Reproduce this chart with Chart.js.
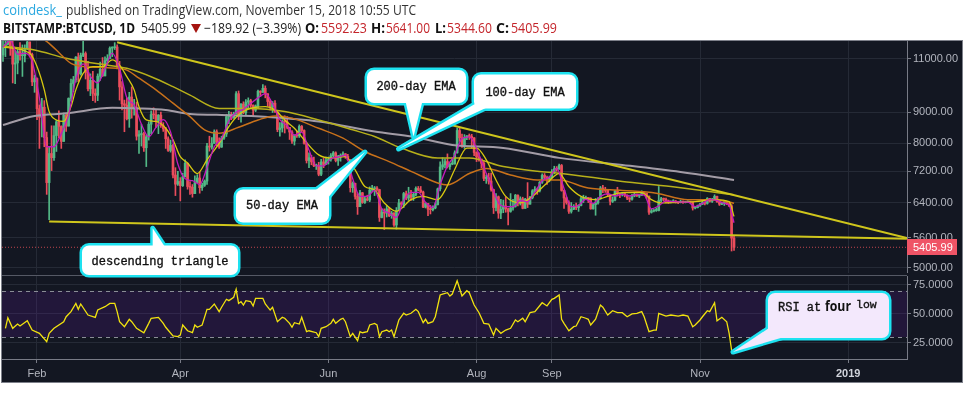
<!DOCTYPE html>
<html>
<head>
<meta charset="utf-8">
<script src="https://cdn.jsdelivr.net/npm/chart.js@4.4.0/dist/chart.umd.min.js"></script>
<style>
  html, body { margin: 0; padding: 0; background: #fff; }
  #wrap { position: relative; width: 968px; height: 393px; overflow: hidden; }
  #panel { position: absolute; left: 1px; top: 40px; width: 962px; height: 343px; box-sizing: border-box;
           background: #131722; border: 1px solid #7d808a; }
  #sep { position: absolute; left: 2px; top: 275px; width: 905px; height: 1px; background: #555965; }
  #main { position: absolute; left: 2px; top: 41px; }
  #rsi { position: absolute; left: 2px; top: 276px; }
  #overlay { position: absolute; left: 0; top: 0; pointer-events: none; }
</style>
</head>
<body>
<div id="wrap">
  <div id="panel"></div>
  <canvas id="main" width="960" height="232"></canvas>
  <div id="sep"></div>
  <canvas id="rsi" width="960" height="106"></canvas>
  <svg id="overlay" width="968" height="393">
    <!-- header -->
    <g font-family="Open Sans" font-size="14">
      <text x="3" y="15" fill="#2aa8e0" textLength="59" lengthAdjust="spacingAndGlyphs">coindesk_</text>
      <text x="66" y="15" fill="#333" textLength="350" lengthAdjust="spacingAndGlyphs">published on TradingView.com, November 15, 2018 10:55 UTC</text>
      <text x="3" y="33" fill="#111" font-weight="bold" textLength="132" lengthAdjust="spacingAndGlyphs">BITSTAMP:BTCUSD, 1D</text>
      <text x="141" y="33" fill="#222" textLength="45" lengthAdjust="spacingAndGlyphs">5405.99</text>
      <polygon points="191,24 201,24 196,33" fill="#a5140f"/>
      <text x="204" y="33" fill="#222" textLength="97" lengthAdjust="spacingAndGlyphs">−189.92 (−3.39%)</text>
      <text x="305" y="33" fill="#111" font-weight="bold" textLength="14" lengthAdjust="spacingAndGlyphs">O:</text>
      <text x="321" y="33" fill="#c4252b" textLength="46" lengthAdjust="spacingAndGlyphs">5592.23</text>
      <text x="371" y="33" fill="#111" font-weight="bold" textLength="14" lengthAdjust="spacingAndGlyphs">H:</text>
      <text x="386" y="33" fill="#c4252b" textLength="44" lengthAdjust="spacingAndGlyphs">5641.00</text>
      <text x="435" y="33" fill="#111" font-weight="bold" textLength="11" lengthAdjust="spacingAndGlyphs">L:</text>
      <text x="447" y="33" fill="#c4252b" textLength="45" lengthAdjust="spacingAndGlyphs">5344.60</text>
      <text x="496" y="33" fill="#111" font-weight="bold" textLength="13" lengthAdjust="spacingAndGlyphs">C:</text>
      <text x="511" y="33" fill="#c4252b" textLength="46" lengthAdjust="spacingAndGlyphs">5405.99</text>
    </g>
    <!-- callout outlines -->
    <g stroke="#1de2f0" stroke-width="5" fill="none" stroke-linejoin="round">
      <rect x="367" y="70" width="99" height="33" rx="7"/>
      <polygon points="405,99 423,99 413.5,136.5"/>
      <rect x="474" y="74.5" width="102" height="34" rx="7"/>
      <polygon points="480,101 490,106 398.5,149"/>
      <rect x="236" y="189.5" width="93" height="33" rx="7"/>
      <polygon points="312,193 327,199 365,152"/>
      <rect x="82" y="245.5" width="156" height="29.5" rx="7"/>
      <polygon points="152.7,250 152.7,228.3 167,250"/>
      <rect x="768" y="293" width="121" height="45" rx="7"/>
      <polygon points="772,326 784,337 733,352"/>
    </g>
    <g stroke="none">
      <g fill="#fff">
        <rect x="367" y="70" width="99" height="33" rx="7"/>
        <polygon points="405,99 423,99 413.5,136.5"/>
        <rect x="474" y="74.5" width="102" height="34" rx="7"/>
        <polygon points="480,101 490,106 398.5,149"/>
        <rect x="236" y="189.5" width="93" height="33" rx="7"/>
        <polygon points="312,193 327,199 365,152"/>
        <rect x="82" y="245.5" width="156" height="29.5" rx="7"/>
        <polygon points="152.7,250 152.7,228.3 167,250"/>
      </g>
      <g fill="#f3e8fc">
        <rect x="768" y="293" width="121" height="45" rx="7"/>
        <polygon points="772,326 784,337 733,352"/>
      </g>
    </g>
    <g font-family="Liberation Mono" font-size="12" fill="#111" stroke="#111" stroke-width="0.35">
      <text x="416" y="90" text-anchor="middle">200-day EMA</text>
      <text x="525" y="96" text-anchor="middle">100-day EMA</text>
      <text x="282" y="208.5" text-anchor="middle">50-day EMA</text>
      <text x="160" y="264.5" text-anchor="middle">descending triangle</text>
      <text x="778" y="311">RSI at</text>
      <text x="825" y="311" font-family="Open Sans" font-weight="bold" font-size="14" stroke="none" textLength="26" lengthAdjust="spacingAndGlyphs">four</text>
      <text x="856" y="308" font-size="11.5">low</text>
    </g>
  </svg>
</div>
<script>
// ---- data (day = days since 1 Jan 2018) ----
const firstDay = 17;          // 18 Jan 2018
const firstOpen = 11170;
const lastPrice = 5405.99;

const closes = [
  11480,11620,12790,11550,10790,10840,11310,11140,11140,11440,11730,11190,10090,10220, // Jan
  9120,8830,9170,8180,6900,7700,7580,8240,8680,8530,8060,8900,8540,9480,10030,10170,11080,10400,11150,11230,10460,9830,10150,9660,9590,10310,10580,10320, // Feb
  10930,11020,11460,11480,11510,10720,9900,9290,9240,8780,9530,9140,9150,8220,8270,8300,7870,8200,8600,8920,8910,8720,8900,8550,8450,8140,7790,7940,7100,6860,6930, // Mar
  6820,7050,7420,6800,6780,6620,6900,7020,6770,6830,6940,7920,7890,8000,8360,8050,7890,8160,8290,8850,8920,8800,8940,9650,8870,9280,8980,9350,9400,9240, // Apr
  9070,9210,9740,9700,9850,9650,9370,9180,9310,9010,8430,8480,8700,8680,8500,8350,8070,8240,8230,8530,8400,8000,7500,7580,7460,7350,7350,7120,7460,7390,7500, // May
  7530,7640,7720,7500,7620,7650,7690,7620,7520,6770,6880,6550,6300,6640,6400,6490,6460,6710,6740,6760,6720,6050,6170,6150,6250,6090,6150,5880,6210,6390, // Jun
  6360,6620,6510,6590,6530,6600,6750,6710,6660,6290,6380,6240,6230,6270,6350,6740,7320,7380,7470,7330,7400,7400,7720,8400,8170,7940,8180,8230,8210,8170,7730, // Jul
  7600,7540,7420,7010,7030,6940,6720,6280,6540,6150,6240,6320,6250,6190,6270,6310,6580,6390,6490,6260,6480,6360,6520,6690,6730,6690,6910,7090,7040,6980,7030, // Aug
  7190,7270,7260,7360,6700,6510,6400,6190,6240,6300,6280,6330,6490,6490,6520,6500,6250,6350,6390,6490,6760,6710,6700,6590,6430,6460,6680,6620,6590,6620, // Sep
  6580,6510,6480,6560,6600,6560,6580,6660,6630,6560,6170,6200,6210,6210,6450,6490,6480,6440,6400,6420,6430,6410,6400,6430,6400,6410,6420,6410,6270,6280,6320, // Oct
  6360,6400,6380,6500,6430,6480,6550,6420,6360,6390,6400,6370,6320,5596,5405.99 // Nov
];
const highs = [
  12000,11900,13000,12790,11900,11350,11400,11700,11600,11600,12030,11730,11250,10350,
  10250,9250,9480,9400,8350,7880,8550,8550,8730,9050,8550,8970,8960,9500,10200,10300,11100,11250,11250,11780,11300,10900,10400,10500,9830,10400,10870,11060,
  11090,11180,11520,11520,11700,11600,10900,10100,9420,9500,9700,9900,9450,9350,8400,8600,8350,8250,8680,9050,9150,9100,8920,9000,8650,8500,8200,8100,7970,7300,7200,
  7030,7150,7520,7430,6930,6850,7080,7110,7180,6890,6970,8000,8220,8180,8420,8420,8170,8220,8300,8930,9030,9000,9000,9730,9750,9300,9360,9440,9500,9450,
  9250,9250,9780,9760,9990,9940,9650,9450,9370,9400,9010,8650,8750,8880,8850,8500,8400,8270,8380,8580,8560,8420,8020,7720,7650,7600,7400,7450,7530,7560,7600,
  7600,7700,7760,7750,7650,7690,7750,7700,7680,7530,6920,6890,6620,6700,6650,6550,6580,6790,6830,6800,6800,6730,6250,6250,6330,6280,6190,6160,6280,6480,
  6420,6650,6680,6780,6700,6630,6790,6800,6800,6680,6400,6380,6330,6320,6390,6760,7460,7580,7550,7690,7430,7570,7780,8480,8490,8290,8270,8240,8290,8280,8180,
  7750,7720,7540,7500,7100,7150,7150,6730,6620,6560,6480,6460,6540,6270,6620,6480,6600,6590,6540,6530,6500,6900,6550,6720,6800,6760,6930,7130,7140,7070,7070,
  7250,7340,7330,7400,7390,6710,6530,6440,6400,6350,6390,6350,6530,6580,6560,6520,6520,6380,6500,6520,6800,6830,6780,6710,6600,6540,6700,6780,6630,6650,
  6650,6590,6520,6600,6640,6610,6600,6690,6660,6630,6560,6240,6230,6270,6800,6530,6510,6510,6460,6440,6470,6450,6420,6460,6440,6430,6440,6430,6420,6300,6340,
  6380,6430,6410,6520,6500,6500,6590,6560,6430,6400,6430,6430,6380,6350,5641
];
const lows = [
  10900,11100,11600,11150,10050,10020,10400,10950,10300,10880,11400,11080,9950,9700,
  8750,7850,8200,7900,6600,6000,7220,7500,7760,8170,7850,8060,8370,8540,9380,9720,10080,10100,10350,11100,10200,9750,9580,9400,9340,9400,10150,10300,
  10320,10780,11000,11100,11400,10600,9420,9080,8360,8740,8500,8800,8900,8100,7700,7920,7760,7330,8100,8300,8780,8500,8300,8500,8370,7850,7760,7740,7020,6570,6830,
  6440,6800,7050,6730,6600,6530,6620,6900,6630,6700,6800,6850,7770,7830,8000,7930,7850,7880,8120,8210,8620,8750,8800,8930,8750,8670,8950,8900,9120,9160,
  8850,9020,9150,9550,9700,9500,9200,9080,8990,8990,8360,8220,8350,8320,8450,8120,8000,7950,8180,8180,8350,7980,7430,7300,7380,7330,7250,7080,7080,7300,7380,
  7400,7480,7600,7460,7360,7480,7640,7560,7500,6660,6650,6480,6120,6300,6380,6380,6440,6420,6670,6570,6680,5960,6040,5780,6060,6070,6030,5850,5790,6200,
  6290,6280,6470,6450,6450,6450,6560,6690,6640,6280,6270,6090,6130,6200,6250,6340,6690,7250,7290,7290,7250,7380,7400,7710,8060,7880,7850,8110,8120,7860,7640,
  7470,7480,7290,6950,6880,6860,6680,6140,6200,6030,6020,6160,6170,5880,6170,6220,6290,6320,6340,6250,6260,6280,6360,6490,6660,6600,6660,6880,6990,6850,6920,
  7020,7130,7200,7250,6680,6260,6360,6140,6150,6230,6230,6190,6320,6400,6480,6400,6240,6240,6100,6360,6480,6640,6650,6560,6340,6400,6440,6560,6520,6560,
  6540,6470,6420,6460,6540,6550,6520,6570,6600,6500,6120,6150,6180,6190,6200,6420,6440,6390,6380,6390,6410,6390,6370,6390,6380,6390,6400,6390,6220,6250,6270,
  6310,6350,6340,6360,6410,6400,6470,6400,6330,6350,6330,6350,6300,5330,5344.6
];

const ema200Days = [17,30,43,62,73,84,94,105,126,147,170,186,202,223,246,272,296,318];
const ema200 = [8575,8870,8960,9150,9130,9075,8940,8910,8840,8690,8365,8200,7955,7865,7575,7375,7180,6970];

const ema100Days = [17,30,43,57,68,78,87,94,106,119,133,147,161,170,181,196,209,223,237,246,272,292,318];
const ema100 = [11550,11380,11030,10790,10620,10290,9910,9600,9130,9130,9020,8740,8420,8210,7860,7570,7570,7330,7200,7150,6930,6800,6590];

const ema50Days = [30,36,41,45,50,57,64,68,73,80,87,94,100,106,114,122,129,136,147,157,166,176,185,196,200,209,216,226,237,246,258,272,286,299,310,318];
const ema50 = [12100,11670,11170,10820,10690,10660,10620,10550,10230,9790,9310,8850,8420,8310,8500,8740,8875,8800,8470,8160,7760,7470,7200,6890,6840,7140,7280,7100,6970,6970,6760,6700,6630,6470,6470,6385];

const fastDays = [17,28,31,34,36,39,42,45,47,50,54,58,62,65,68,71,73,76,80,84,87,90,93,97,101,106,110,114,119,125,
  129,133,137,141,147,152,158,162,166,170,174,179,185,190,196,199,203,208,212,216,220,224,230,235,241,246,250,255,261,266,
  272,280,284,288,294,302,310,316,318];
const emaFast = [11500,11240,10690,9790,9020,8740,8690,9190,9790,10420,10690,10690,10960,10750,10290,9790,9190,8740,8690,8470,
  8110,7610,7430,7140,7520,8000,8520,8910,9130,9190,9080,8740,8470,8110,7660,7570,7610,7240,6800,6710,
  6390,6190,6470,6550,6470,6700,7250,7860,7860,7520,6970,6550,6390,6550,6890,7140,6800,6550,6470,6550,
  6645,6645,6470,6390,6400,6420,6470,6420,6070];

const shortDays = [17,20,23,26,29,32,35,38,41,44,47,50,53,56,59,62,65,68,71,74,77,80,83,86,89,92,95,98,101,104,
  107,110,113,116,119,122,125,128,131,134,137,140,143,146,149,152,155,158,161,164,167,170,173,176,179,182,185,188,191,194,
  197,200,203,206,209,212,215,218,221,224,227,230,233,236,239,242,245,248,251,254,257,260,263,266,269,272,275,278,281,284,
  287,290,293,296,299,302,305,308,311,314,316,317,318];
const emaShort = [11500,11800,11200,11250,10900,9500,7900,7900,8300,8900,10200,10800,10300,10050,10600,11250,10600,9500,9250,8600,
  8200,8500,8750,8350,7400,7000,6950,6850,7300,7900,8150,8700,9000,9100,9300,9500,9650,9300,8750,8550,
  8250,8350,7800,7350,7350,7550,7600,7650,7000,6550,6550,6700,6250,6150,6050,6450,6650,6650,6400,6280,
  6850,7350,7650,8150,8200,7850,7300,6850,6400,6300,6300,6450,6420,6650,6950,7050,7280,6750,6300,6330,
  6480,6380,6550,6620,6560,6600,6560,6600,6580,6250,6320,6440,6420,6410,6410,6300,6380,6470,6450,6380,
  6340,6150,5930];

const rsiDays = [18,19,21,23,24,27,29,32,35,36,38,42,43,45,47,48,49,52,55,56,59,61,63,64,65,67,69,70,72,75,
  77,78,81,83,84,87,89,90,91,93,95,96,97,99,101,102,104,106,107,109,110,112,113,114,115,116,117,119,120,121,
  124,125,127,128,130,132,133,135,136,137,139,140,142,143,146,147,148,150,152,153,154,156,157,158,160,161,163,164,165,167,
  168,170,171,172,173,175,176,177,178,180,182,183,185,187,188,190,191,192,194,195,197,198,200,201,202,204,206,208,209,211,
  213,215,217,219,220,222,224,226,228,229,231,232,234,236,239,241,243,244,246,247,248,250,252,253,255,257,258,259,261,263,
  264,266,268,270,272,274,276,278,280,281,283,285,286,287,290,292,295,297,299,301,302,304,305,307,308,310,311,313,315,316,
  317,318];
const rsiValues = [37.5,46.7,37.5,41.2,39.5,44,36,33.2,26,33.2,37.5,43.2,47.5,51.9,59,53.9,58.5,49,47,53.3,
  56.2,59,59,51.9,43.2,38.9,45.3,43.2,37.5,33.7,41.8,46.2,47,41.8,38.4,30.9,30.3,31.7,40.4,35.4,
  33.7,40.4,38.4,40.4,53.9,53.9,58.5,51.9,55.7,62.6,61.4,64.3,71.2,59,60.5,57.6,61.4,60.5,56.8,63.4,
  63.4,58.5,53.3,55.7,43.2,47,46.2,41.8,38.4,42.4,41.2,47,34.6,35.4,33.7,30.3,37.5,38.9,41.8,45.3,
  41.8,45.3,46.2,43.2,30.3,33.2,26.8,34.6,33.7,34.6,40.4,41.8,40.4,30.3,34.6,36,34.6,36,30.3,44.7,
  50.5,49,50.5,53.9,51.9,42.4,45.3,41.8,43.2,47.5,66.3,67.1,68.3,65.4,67.1,78.6,65.4,70,68.3,57.6,
  51,41.8,41.2,31.7,37.5,33.2,36,37.5,44.7,43.2,46.2,43.2,51,51.9,59.6,56.8,62.6,63.4,66.3,45.3,
  41.8,35.4,38.9,39.5,47.5,46.2,45.3,40.4,45.3,57.6,55.7,49,52.7,51,51,47.5,49.9,50.5,51.9,47.5,
  34.6,36,36,50.5,48.1,49,48.1,49,48.1,38.9,40.4,44.7,47.5,52.7,51.9,59.6,44,47,43.2,33.2,
  18.8,15.9];

// upper / lower triangle lines: [startDay, startPrice, endDay, endPrice]
const upperLine = [64, 11720, 389.2, 5600];
const lowerLine = [36, 5960, 389.2, 5585];

const priceTicks = [5000, 5600, 6400, 7200, 8000, 9000, 11000];
const rsiTicks = [25, 50, 75];
const monthDays = [31, 90, 151, 212, 243, 304, 365];
const monthLabels = ['Feb', 'Apr', 'Jun', 'Aug', 'Sep', 'Nov', '2019'];

// ---- layout of the view ----
const X_MIN = 16.59, X_MAX = 389.23;
const UP = '#53b987', DOWN = '#eb4d5c';
const GRID = '#252a36', AXIS = '#787b86', LABEL = '#b2b5be';
const FONT = 'Liberation Sans';

const opens = closes.map((c, i) => i === 0 ? firstOpen : closes[i - 1]);
const colors = closes.map((c, i) => c >= opens[i] ? UP : DOWN);
const bodies = closes.map((c, i) => ({ x: firstDay + i, y: [opens[i], c] }));
const wicks = closes.map((c, i) => ({ x: firstDay + i, y: [lows[i], highs[i]] }));
const pts = (days, vals) => days.map((d, i) => ({ x: d, y: vals[i] }));

function lineSet(data, color, width, order, extra) {
  return Object.assign({
    type: 'line', data, borderColor: color, borderWidth: width, pointRadius: 0,
    cubicInterpolationMode: 'monotone', order
  }, extra || {});
}

function fixedX(ax, h) {
  ax.height = h; ax.paddingLeft = 0; ax.paddingRight = 0;
}
function fixedY(ax) {
  ax.width = 55; ax.paddingTop = 0; ax.paddingBottom = 0;
}

const priceTag = {
  id: 'priceTag',
  afterDraw(chart) {
    const { ctx, chartArea, scales } = chart;
    const y = Math.round(scales.y.getPixelForValue(lastPrice));
    ctx.save();
    ctx.fillStyle = '#ef5466';
    ctx.fillRect(chartArea.right, y - 8, 50, 16);
    ctx.fillStyle = '#fff';
    ctx.font = '11px "' + FONT + '"';
    ctx.textBaseline = 'middle';
    ctx.fillText(lastPrice.toFixed(2), chartArea.right + 6, y + 0.5);
    ctx.restore();
  }
};

new Chart(document.getElementById('main'), {
  type: 'bar',
  data: {
    datasets: [
      lineSet([{ x: upperLine[0], y: upperLine[1] }, { x: upperLine[2], y: upperLine[3] }], '#cfc61c', 2, 1, { cubicInterpolationMode: 'default', tension: 0 }),
      lineSet([{ x: lowerLine[0], y: lowerLine[1] }, { x: lowerLine[2], y: lowerLine[3] }], '#cfc61c', 2, 1, { cubicInterpolationMode: 'default', tension: 0 }),
      lineSet([{ x: X_MIN, y: lastPrice }, { x: X_MAX, y: lastPrice }], 'rgba(239,83,90,0.8)', 1, 2, { borderDash: [1, 2], tension: 0 }),
      lineSet(pts(shortDays, emaShort), '#c21bbd', 1.3, 3),
      lineSet(pts(fastDays, emaFast), '#d8c910', 1.3, 4),
      lineSet(pts(ema50Days, ema50), '#c8711a', 1.5, 5),
      lineSet(pts(ema100Days, ema100), '#b7b01a', 1.5, 6),
      lineSet(pts(ema200Days, ema200), '#a39ca6', 2, 7),
      { type: 'bar', data: bodies, backgroundColor: colors, barThickness: 2, minBarLength: 1, grouped: false, order: 10 },
      { type: 'bar', data: wicks, backgroundColor: colors, barThickness: 1, grouped: false, order: 11 }
    ]
  },
  options: {
    responsive: false,
    animation: false,
    layout: { padding: 0 },
    plugins: { legend: { display: false }, tooltip: { enabled: false } },
    scales: {
      x: {
        type: 'linear', min: X_MIN, max: X_MAX, offset: false,
        afterBuildTicks: ax => { ax.ticks = monthDays.map(v => ({ value: v })); },
        afterFit: ax => fixedX(ax, 0),
        ticks: { display: false },
        grid: { color: GRID, drawTicks: false, offset: false },
        border: { display: false }
      },
      y: {
        type: 'logarithmic', position: 'right', min: 4906, max: 11773, beginAtZero: false,
        afterBuildTicks: ax => { ax.ticks = priceTicks.map(v => ({ value: v })); },
        afterFit: fixedY,
        ticks: { color: LABEL, font: { family: FONT, size: 11 }, padding: 2, autoSkip: false,
                 callback: v => Number(v).toFixed(2) },
        grid: { color: GRID, tickColor: AXIS, tickLength: 4 },
        border: { color: AXIS }
      }
    }
  },
  plugins: [priceTag]
});

const rsiBand = {
  id: 'rsiBand',
  beforeDatasetsDraw(chart) {
    const { ctx, chartArea, scales } = chart;
    const y70 = scales.y.getPixelForValue(70), y30 = scales.y.getPixelForValue(30);
    ctx.save();
    ctx.fillStyle = 'rgba(120,30,200,0.15)';
    ctx.fillRect(chartArea.left, y70, chartArea.right - chartArea.left, y30 - y70);
    ctx.strokeStyle = '#8a8d96';
    ctx.lineWidth = 1;
    ctx.setLineDash([4, 4]);
    [y70, y30].forEach(y => {
      ctx.beginPath();
      ctx.moveTo(chartArea.left, Math.round(y) + 0.5);
      ctx.lineTo(chartArea.right, Math.round(y) + 0.5);
      ctx.stroke();
    });
    ctx.restore();
  }
};

new Chart(document.getElementById('rsi'), {
  type: 'line',
  data: {
    datasets: [{
      data: pts(rsiDays, rsiValues), borderColor: '#f2e30f', borderWidth: 1.3,
      pointRadius: 0, tension: 0
    }]
  },
  options: {
    responsive: false,
    animation: false,
    layout: { padding: 0 },
    plugins: { legend: { display: false }, tooltip: { enabled: false } },
    scales: {
      x: {
        type: 'linear', min: X_MIN, max: X_MAX,
        afterBuildTicks: ax => { ax.ticks = monthDays.map(v => ({ value: v })); },
        afterFit: ax => fixedX(ax, 23),
        ticks: {
          autoSkip: false, maxRotation: 0, padding: 4,
          color: c => (c.tick && c.tick.value === 365) ? '#d1d4dc' : LABEL,
          font: c => ({ family: FONT, size: 11, weight: (c.tick && c.tick.value === 365) ? 'bold' : 'normal' }),
          callback: v => monthLabels[monthDays.indexOf(v)]
        },
        grid: { color: GRID, tickColor: AXIS, tickLength: 4 },
        border: { color: AXIS }
      },
      y: {
        position: 'right', min: 11.0, max: 82.7,
        afterBuildTicks: ax => { ax.ticks = rsiTicks.map(v => ({ value: v })); },
        afterFit: fixedY,
        ticks: { color: LABEL, font: { family: FONT, size: 11 }, padding: 2, autoSkip: false,
                 callback: v => Number(v).toFixed(4) },
        grid: { color: GRID, tickColor: AXIS, tickLength: 4 },
        border: { color: AXIS }
      }
    }
  },
  plugins: [rsiBand]
});
</script>
</body>
</html>
